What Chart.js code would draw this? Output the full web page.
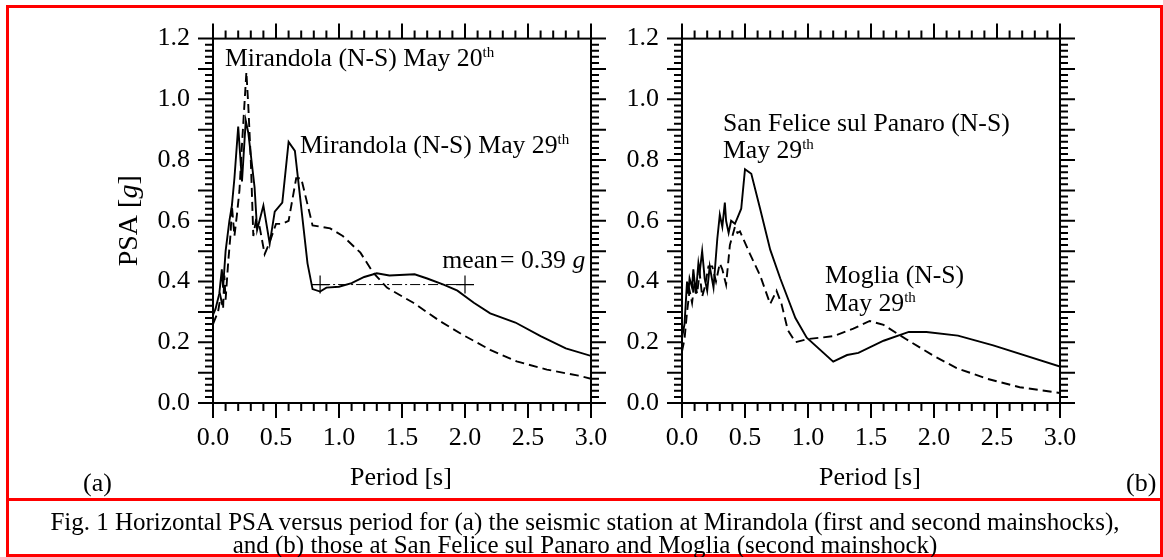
<!DOCTYPE html>
<html lang="en">
<head>
<meta charset="UTF-8">
<title>Horizontal PSA versus period</title>
<script src="https://cdn.jsdelivr.net/npm/chart.js"></script>
<style>
  body { margin: 0; background: #fff; font-family: "Liberation Serif", "Times New Roman", serif; color: #000; }
  #wrap { position: relative; width: 1163px; height: 557px; overflow: hidden; }
  canvas { position: absolute; left: 0; top: 0; }
  .frame { position: absolute; left: 6px; top: 5px; right: 0; bottom: 0; border: 3px solid #f00; }
  .rule { position: absolute; left: 7px; right: 0; top: 498px; height: 3px; background: #f00; }
  .tag { position: absolute; font-size: 26px; line-height: 26px; }
  .cap { position: absolute; left: 7px; right: 0; text-align: center; font-size: 25px; line-height: 25px; white-space: nowrap; }
</style>
</head>
<body>
<div id="wrap">
  <canvas id="panelA" width="1163" height="557"></canvas>
  <canvas id="panelB" width="1163" height="557"></canvas>
  <div class="frame"></div>
  <div class="rule"></div>
  <div class="tag" style="left:83px; top:470px;">(a)</div>
  <div class="tag" style="left:1126px; top:470px;">(b)</div>
  <div class="cap" style="top:509px;">Fig. 1 Horizontal PSA versus period for (a) the seismic station at Mirandola (first and second mainshocks),</div>
  <div class="cap" style="top:532px;">and (b) those at San Felice sul Panaro and Moglia (second mainshock)</div>
</div>
<script>
// period [s], PSA [g]
const mirandola20 = [
  [0,0.26],[0.02,0.28],[0.04,0.30],[0.06,0.35],[0.08,0.31],[0.09,0.42],[0.10,0.34],[0.12,0.46],
  [0.14,0.56],[0.15,0.65],[0.17,0.55],[0.19,0.62],[0.21,0.70],[0.23,0.85],[0.265,1.09],[0.28,0.98],
  [0.30,0.80],[0.32,0.55],[0.34,0.60],[0.37,0.58],[0.41,0.49],[0.45,0.53],[0.50,0.59],[0.55,0.59],
  [0.60,0.60],[0.66,0.74],[0.70,0.74],[0.79,0.585],[0.93,0.575],[1.03,0.55],[1.17,0.495],[1.27,0.43],
  [1.38,0.38],[1.59,0.33],[1.80,0.27],[1.98,0.225],[2.20,0.175],[2.41,0.137],[2.65,0.11],[2.90,0.09],[3.0,0.08]
];
const mirandola29 = [
  [0,0.29],[0.02,0.31],[0.05,0.36],[0.07,0.44],[0.08,0.38],[0.10,0.50],[0.13,0.60],[0.15,0.65],
  [0.17,0.74],[0.20,0.91],[0.23,0.73],[0.26,0.93],[0.28,0.89],[0.33,0.71],[0.35,0.57],[0.40,0.65],
  [0.45,0.525],[0.49,0.63],[0.55,0.66],[0.60,0.86],[0.65,0.83],[0.75,0.46],[0.79,0.375],[0.85,0.367],
  [0.90,0.38],[1.0,0.383],[1.1,0.395],[1.2,0.415],[1.3,0.427],[1.4,0.42],[1.6,0.424],[1.7,0.41],
  [1.83,0.39],[1.94,0.37],[2.07,0.33],[2.2,0.295],[2.4,0.265],[2.6,0.22],[2.8,0.18],[3.0,0.155]
];
const meanPsa = 0.39;
const meanRange = [0.85, 2.0];

const sanFelice29 = [
  [0,0.215],[0.02,0.26],[0.04,0.40],[0.05,0.36],[0.06,0.41],[0.08,0.38],[0.09,0.44],[0.11,0.36],
  [0.13,0.46],[0.14,0.43],[0.16,0.50],[0.18,0.41],[0.20,0.37],[0.22,0.45],[0.25,0.38],[0.28,0.54],
  [0.30,0.62],[0.32,0.58],[0.34,0.66],[0.35,0.60],[0.37,0.56],[0.39,0.60],[0.42,0.59],[0.44,0.61],
  [0.47,0.64],[0.50,0.77],[0.55,0.755],[0.62,0.64],[0.70,0.505],[0.78,0.41],[0.90,0.28],[0.99,0.215],
  [1.2,0.136],[1.31,0.158],[1.4,0.165],[1.6,0.205],[1.8,0.234],[1.94,0.234],[2.19,0.222],[2.47,0.19],[3.0,0.12]
];
const moglia29 = [
  [0,0.17],[0.02,0.21],[0.04,0.30],[0.06,0.37],[0.08,0.33],[0.10,0.40],[0.12,0.36],[0.14,0.43],
  [0.16,0.35],[0.18,0.38],[0.21,0.45],[0.24,0.45],[0.27,0.40],[0.30,0.46],[0.32,0.44],[0.35,0.39],
  [0.38,0.52],[0.40,0.55],[0.42,0.58],[0.44,0.56],[0.46,0.565],[0.54,0.49],[0.62,0.42],[0.70,0.326],
  [0.75,0.37],[0.79,0.326],[0.84,0.24],[0.90,0.20],[0.99,0.21],[1.2,0.22],[1.36,0.245],[1.49,0.27],
  [1.6,0.257],[1.78,0.21],[1.99,0.157],[2.18,0.115],[2.42,0.08],[2.68,0.052],[3.0,0.033]
];

const periodTicks = [0, 0.5, 1.0, 1.5, 2.0, 2.5, 3.0];
const psaTicks = [0, 0.2, 0.4, 0.6, 0.8, 1.0, 1.2];

const FONT = '"Liberation Serif", "Times New Roman", serif';
const W = 1163, H = 557;
const PLOT_W = 378, PLOT_TOP = 24, PLOT_BOTTOM = 403;
const Y_AXIS_W = 100, X_AXIS_H = 70;
const MAJOR = 15, MINOR = 8;

const pts = arr => arr.map(p => ({ x: p[0], y: p[1] }));

function curve(arr, dashed) {
  return {
    data: pts(arr),
    borderColor: '#000',
    borderWidth: 1.9,
    borderDash: dashed ? [9, 5] : [],
    pointRadius: 0,
    tension: 0,
    fill: false
  };
}

// box round the plot, ticks pointing out on all four sides
const framePlugin = {
  id: 'frame',
  afterDraw(chart) {
    const { ctx, chartArea: a, scales: { x, y } } = chart;
    ctx.save();
    ctx.strokeStyle = '#000';
    ctx.lineWidth = 2;
    ctx.strokeRect(a.left, a.top, a.right - a.left, a.bottom - a.top);
    ctx.beginPath();
    for (let i = 0; i <= 30; i++) {
      const px = x.getPixelForValue(i / 10);
      const len = i % 5 === 0 ? MAJOR : MINOR;
      ctx.moveTo(px, a.bottom); ctx.lineTo(px, a.bottom + len);
      ctx.moveTo(px, a.top); ctx.lineTo(px, a.top - len);
    }
    for (let j = 0; j <= 60; j++) {
      const py = y.getPixelForValue(j / 50);
      const len = j % 5 === 0 ? MAJOR : MINOR;
      ctx.moveTo(a.left, py); ctx.lineTo(a.left - len, py);
      ctx.moveTo(a.right, py); ctx.lineTo(a.right + len, py);
    }
    ctx.stroke();
    ctx.restore();
  }
};

// text pieces: [text, style] where style is '', 'sup' or 'it'
function drawRich(ctx, parts, x, y) {
  let cx = x;
  parts.forEach(([t, s]) => {
    const size = s === 'sup' ? 15 : 25.7;
    ctx.font = (s === 'it' ? 'italic ' : '') + size + 'px ' + FONT;
    ctx.fillText(t, cx, s === 'sup' ? y - 9 : y);
    cx += ctx.measureText(t).width;
  });
}

const notesPlugin = {
  id: 'notes',
  afterDraw(chart) {
    const { ctx, scales: { x, y } } = chart;
    const notes = chart.options.plugins.notes.items;
    ctx.save();
    ctx.fillStyle = '#000';
    ctx.textBaseline = 'alphabetic';
    ctx.textAlign = 'left';
    notes.forEach(n => drawRich(ctx, n.parts, x.getPixelForValue(n.at[0]), y.getPixelForValue(n.at[1])));
    if (chart.options.plugins.notes.yTitle) {
      ctx.translate(130, (chart.chartArea.top + chart.chartArea.bottom) / 2);
      ctx.rotate(-Math.PI / 2);
      ctx.textBaseline = 'middle';
      ctx.font = '28px ' + FONT;
      const w1 = ctx.measureText('PSA [').width, w3 = ctx.measureText(']').width;
      ctx.font = 'italic 28px ' + FONT;
      const w2 = ctx.measureText('g').width;
      let cx = -(w1 + w2 + w3) / 2;
      ctx.font = '28px ' + FONT;
      ctx.fillText('PSA [', cx, 0); cx += w1;
      ctx.font = 'italic 28px ' + FONT;
      ctx.fillText('g', cx, 0); cx += w2;
      ctx.font = '28px ' + FONT;
      ctx.fillText(']', cx, 0);
    }
    ctx.restore();
  }
};

function makePanel(id, plotLeft, datasets, notes, yTitle) {
  return new Chart(document.getElementById(id), {
    type: 'line',
    data: { datasets },
    options: {
      responsive: false,
      animation: false,
      events: [],
      layout: {
        padding: {
          left: plotLeft - Y_AXIS_W,
          right: W - plotLeft - PLOT_W,
          top: PLOT_TOP,
          bottom: H - PLOT_BOTTOM - X_AXIS_H
        }
      },
      plugins: {
        legend: { display: false },
        tooltip: { enabled: false },
        notes: { items: notes, yTitle }
      },
      scales: {
        x: {
          type: 'linear', min: 0, max: 3,
          grid: { display: false, drawTicks: false },
          border: { display: false },
          afterBuildTicks: s => { s.ticks = periodTicks.map(v => ({ value: v })); },
          afterFit: s => { s.height = X_AXIS_H; },
          ticks: {
            color: '#000', padding: 20, maxRotation: 0, autoSkip: false,
            font: { family: FONT, size: 26 },
            callback: v => v.toFixed(1)
          }
        },
        y: {
          type: 'linear', min: 0, max: 1.2,
          grid: { display: false, drawTicks: false },
          border: { display: false },
          afterBuildTicks: s => { s.ticks = psaTicks.map(v => ({ value: v })); },
          afterFit: s => { s.width = Y_AXIS_W; },
          ticks: {
            color: '#000', padding: 23,
            font: { family: FONT, size: 26 },
            callback: v => v.toFixed(1)
          }
        }
      }
    },
    plugins: [framePlugin, notesPlugin]
  });
}

function xTitle(centerX) {
  const d = document.createElement('div');
  d.className = 'tag';
  d.style.left = (centerX - 52) + 'px';
  d.style.top = '464px';
  d.textContent = 'Period [s]';
  document.getElementById('wrap').appendChild(d);
}

makePanel('panelA', 213, [
  curve(mirandola20, true),
  curve(mirandola29, false),
  {
    data: meanRange.map(t => ({ x: t, y: meanPsa })),
    borderColor: '#000', borderWidth: 1, borderDash: [10, 3, 2, 3],
    pointStyle: 'cross', pointRadius: 9, pointBorderWidth: 1.2, pointBorderColor: '#000'
  }
], [
  { at: [0.095, 1.11], parts: [['Mirandola (N-S) May 20', ''], ['th', 'sup']] },
  { at: [0.69, 0.823], parts: [['Mirandola (N-S) May 29', ''], ['th', 'sup']] },
  { at: [1.82, 0.446], parts: [['mean\u200A= 0.39 ', ''], ['g', 'it']] }
], true);

makePanel('panelB', 682, [
  curve(moglia29, true),
  curve(sanFelice29, false)
], [
  { at: [0.325, 0.896], parts: [['San Felice sul Panaro (N-S)', '']] },
  { at: [0.325, 0.807], parts: [['May 29', ''], ['th', 'sup']] },
  { at: [1.135, 0.396], parts: [['Moglia (N-S)', '']] },
  { at: [1.135, 0.304], parts: [['May 29', ''], ['th', 'sup']] }
], false);

xTitle(402);
xTitle(871);
</script>
</body>
</html>
